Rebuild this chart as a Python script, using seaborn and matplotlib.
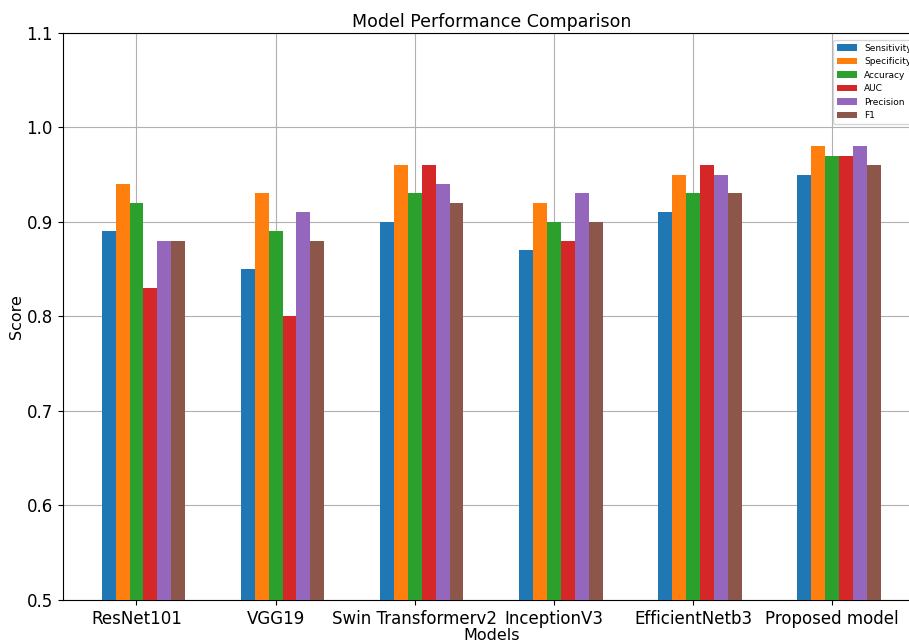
import pandas as pd
import matplotlib
matplotlib.use("Agg")
import matplotlib.pyplot as plt
import seaborn as sns

models = ["ResNet101", "VGG19", "Swin Transformerv2", "InceptionV3", "EfficientNetb3", "Proposed model"]
metrics = ["Sensitivity", "Specificity", "Accuracy", "AUC", "Precision", "F1"]

sensitivity = [0.89, 0.85, 0.90, 0.87, 0.91, 0.95]
specificity = [0.94, 0.93, 0.96, 0.92, 0.95, 0.98]
accuracy = [0.92, 0.89, 0.93, 0.90, 0.93, 0.97]
auc = [0.83, 0.80, 0.96, 0.88, 0.96, 0.97]
precision = [0.88, 0.91, 0.94, 0.93, 0.95, 0.98]
f1 = [0.88, 0.88, 0.92, 0.90, 0.93, 0.96]

rows = []
for name, vals in zip(metrics, [sensitivity, specificity, accuracy, auc, precision, f1]):
    for m, v in zip(models, vals):
        rows.append({"Model": m, "Metric": name, "Score": v})
df = pd.DataFrame(rows)

fig = plt.figure(figsize=(9.09, 6.41), dpi=100)
ax = fig.add_axes([0.069, 0.064, 0.943, 0.885])

sns.barplot(data=df, x="Model", y="Score", hue="Metric", order=models,
            hue_order=metrics, palette="tab10", width=0.6, saturation=1,
            errorbar=None, ax=ax, zorder=3)

# seaborn centres the group on the category; the original put the 3rd bar on the tick
ticks = [i - 0.05 for i in range(len(models))]
ax.set_xticks(ticks)
ax.set_xticklabels(models, fontsize=12)
ax.set_xlim(ticks[0] - 0.53, ticks[-1] + 0.63)
ax.set_ylim(0.5, 1.1)
ax.set_yticks([0.5, 0.6, 0.7, 0.8, 0.9, 1.0, 1.1])
ax.tick_params(axis="y", labelsize=12)
ax.grid(True, color="#b0b0b0", linewidth=0.8, zorder=0)
ax.set_axisbelow(True)

ax.set_title("Model Performance Comparison", fontsize=12.5, pad=4)
ax.set_xlabel("Models", fontsize=11.5, labelpad=0)
ax.set_ylabel("Score", fontsize=11.5, labelpad=2)

leg = ax.legend(loc="upper right", bbox_to_anchor=(1.0, 0.995), fontsize=6.5,
                title=None, handlelength=2.2, framealpha=0.8)

fig.savefig("out.png", dpi=100)
